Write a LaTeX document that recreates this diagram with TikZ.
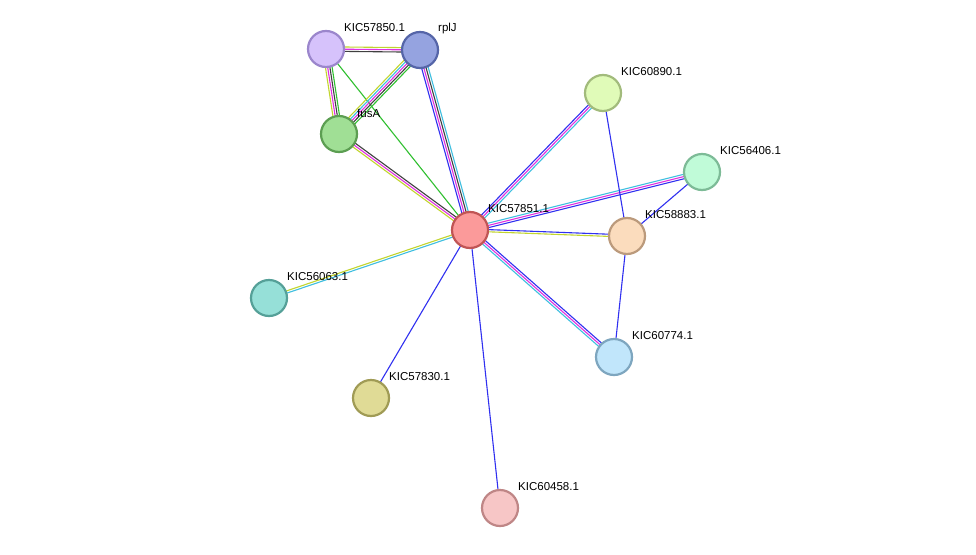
\documentclass[tikz,border=0pt]{standalone}
\usepackage{fontspec}
\setmainfont{Liberation Sans}
\usetikzlibrary{calc}
\definecolor{yg}{HTML}{C2D52E}
\definecolor{cy}{HTML}{3FBFE0}
\definecolor{mg}{HTML}{E030E0}
\definecolor{bl}{HTML}{3030F0}
\definecolor{gn}{HTML}{30C030}
\definecolor{bk}{HTML}{404040}
\definecolor{fa}{HTML}{D6C2FB}\definecolor{da}{HTML}{9B86CC}
\definecolor{fr}{HTML}{95A3E0}\definecolor{dr}{HTML}{5565A8}
\definecolor{ff}{HTML}{A0DF95}\definecolor{df}{HTML}{5C9E52}
\definecolor{fc}{HTML}{FB9A9A}\definecolor{dc}{HTML}{C05555}
\definecolor{fp}{HTML}{E0FBB8}\definecolor{dp}{HTML}{A2BB7C}
\definecolor{fq}{HTML}{C0FBD8}\definecolor{dq}{HTML}{7DBB97}
\definecolor{fs}{HTML}{FBDCBD}\definecolor{ds}{HTML}{BB9A7C}
\definecolor{ft}{HTML}{96E0D8}\definecolor{dt}{HTML}{55A098}
\definecolor{fu}{HTML}{E0DB96}\definecolor{du}{HTML}{A09B55}
\definecolor{fv}{HTML}{C1E6FB}\definecolor{dv}{HTML}{7EA6BF}
\definecolor{fw}{HTML}{F7C6C6}\definecolor{dw}{HTML}{BF8686}
\newcommand{\medge}[4]{% a, b, n, colors
  \foreach \c [count=\i] in {#4} {
    \pgfmathsetmacro{\off}{(\i-(#3+1)/2)*2.2}
    \draw[\c, line width=1.1pt] ($(#1)!\off pt!90:(#2)$) -- ($(#2)!\off pt!-90:(#1)$);
  }}
\tikzset{prot/.style 2 args={circle, minimum size=36pt, inner sep=0pt, line width=2.2pt, fill=#1, draw=#2},
  lab/.style={anchor=west, font=\fontsize{11.5}{13}\selectfont, inner sep=0pt}}
\begin{document}
\begin{tikzpicture}[x=1pt,y=-1pt]
\useasboundingbox (0,0) rectangle (976,554);
\fill[white] (0,0) rectangle (976,554);
\coordinate (a) at (326,49);
\coordinate (r) at (420,50);
\coordinate (f) at (339,134);
\coordinate (c) at (470,230);
\coordinate (p) at (603,93);
\coordinate (q) at (702,172);
\coordinate (s) at (627,236);
\coordinate (t) at (269,298);
\coordinate (u) at (371,398);
\coordinate (v) at (614,357);
\coordinate (w) at (500,508);
\medge{a}{r}{3}{bk,mg,yg}
\medge{a}{f}{4}{yg,mg,bk,gn}
\medge{a}{c}{1}{gn}
\medge{r}{f}{5}{yg,cy,mg,bk,gn}
\medge{r}{c}{4}{bl,mg,bk,cy}
\medge{f}{c}{3}{yg,mg,bk}
\medge{c}{p}{3}{cy,mg,bl}
\medge{c}{q}{3}{bl,mg,cy}
\medge{c}{s}{2}{yg,bl}
\medge{c}{v}{3}{cy,mg,bl}
\medge{c}{t}{2}{yg,cy}
\medge{c}{u}{1}{bl}
\medge{c}{w}{1}{bl}
\medge{p}{s}{1}{bl}
\medge{q}{s}{1}{bl}
\medge{s}{v}{1}{bl}
\node[prot={fa}{da}] (na) at (a) {};
\node[prot={fr}{dr}] (nr) at (r) {};
\node[prot={ff}{df}] (nf) at (f) {};
\node[prot={fc}{dc}] (nc) at (c) {};
\node[prot={fp}{dp}] (np) at (p) {};
\node[prot={fq}{dq}] (nq) at (q) {};
\node[prot={fs}{ds}] (ns) at (s) {};
\node[prot={ft}{dt}] (nt) at (t) {};
\node[prot={fu}{du}] (nu) at (u) {};
\node[prot={fv}{dv}] (nv) at (v) {};
\node[prot={fw}{dw}] (nw) at (w) {};
\node[lab] (la) at ($(a)+(18,-21)$) {KIC57850.1};
\node[lab] (lr) at ($(r)+(18,-21)$) {rplJ};
\node[lab] (lf) at ($(f)+(18,-21)$) {fusA};
\node[lab] (lc) at ($(c)+(18,-21)$) {KIC57851.1};
\node[lab] (lp) at ($(p)+(18,-21)$) {KIC60890.1};
\node[lab] (lq) at ($(q)+(18,-21)$) {KIC56406.1};
\node[lab] (ls) at ($(s)+(18,-21)$) {KIC58883.1};
\node[lab] (lt) at ($(t)+(18,-21)$) {KIC56063.1};
\node[lab] (lu) at ($(u)+(18,-21)$) {KIC57830.1};
\node[lab] (lv) at ($(v)+(18,-21)$) {KIC60774.1};
\node[lab] (lw) at ($(w)+(18,-21)$) {KIC60458.1};
\end{tikzpicture}
\end{document}
